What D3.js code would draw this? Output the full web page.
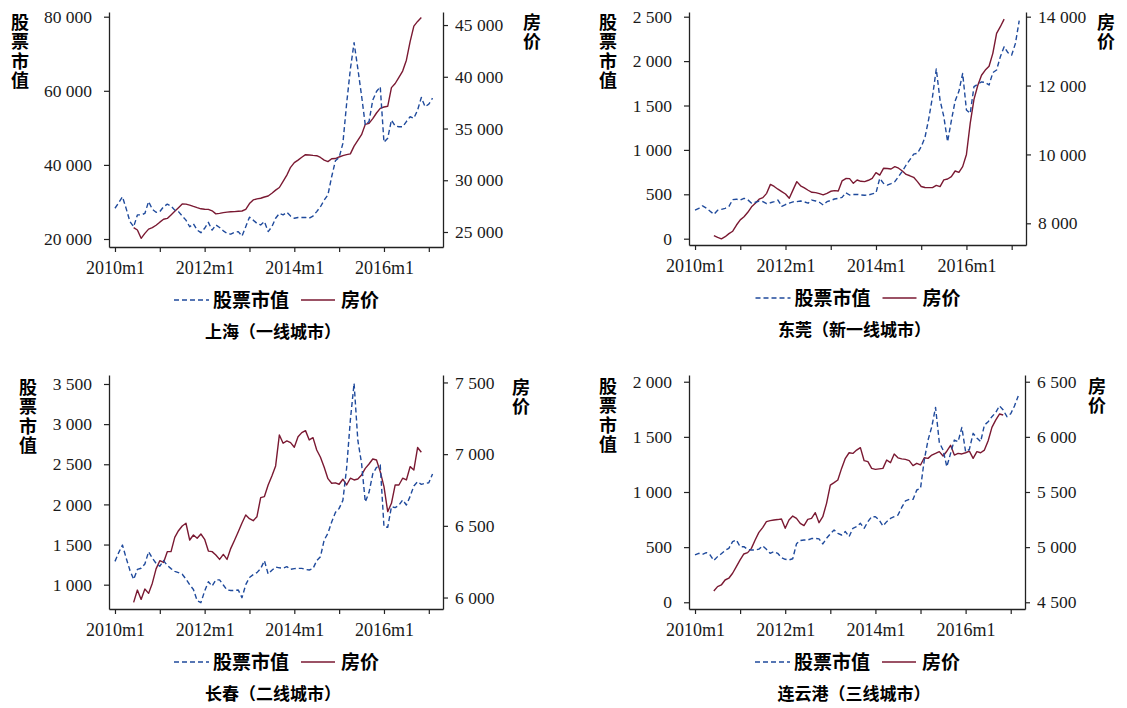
<!DOCTYPE html>
<html>
<head>
<meta charset="utf-8">
<script src="https://cdn.jsdelivr.net/npm/d3@7"></script>
<style>
  body { margin: 0; background: #fff; }
  svg { display: block; }
  .num { font-family: "Liberation Serif", "Times New Roman", serif; fill: #1a1a1a; }
  .cjk { font-family: "Noto Sans CJK SC", "Noto Sans", sans-serif; font-weight: 700; fill: #000; }
  .vert { writing-mode: vertical-rl; text-orientation: upright; }
</style>
</head>
<body>
<svg id="chart" width="1127" height="708"></svg>
<script>
// ---- Monthly series, 2010m1 onward (stock market value) and 2010m6 onward (house price) ----
const firstYear = 2010;
const priceStartMonth = "2010m6";
const xTickMonths = ["2010m1", "2011m1", "2012m1", "2013m1", "2014m1", "2015m1", "2016m1", "2017m1"];
const xTickLabels = ["2010m1", "2012m1", "2014m1", "2016m1"];

const cityTitles = ["上海（一线城市）", "东莞（新一线城市）", "长春（二线城市）", "连云港（三线城市）"];
const seriesNames = ["股票市值", "房价"];

// 上海
const stockShanghai = [
  28300, 29800, 31400, 28200, 24700, 23300, 26500, 26500, 26900, 30100, 28000, 27200,
  27400, 28700, 29400, 28900, 27800, 27400, 26200, 25100, 23300, 24100, 22400, 21700,
  22900, 24500, 22400, 23800, 23100, 22200, 21500, 21300, 21800, 22000, 20800, 23300,
  25900, 25100, 24200, 23800, 24700, 22000, 23300, 25600, 26900, 26500, 27200, 26200,
  25600, 25800, 25800, 25800, 25600, 26200, 27400, 28700, 30500, 31900, 36800, 41100,
  42000, 45800, 56500, 65800, 73000, 66000, 58700, 50800, 51700, 57500, 59800, 61100,
  46100, 47200, 52100, 50500, 50300, 50300, 51700, 53000, 52600, 54800, 58200, 55700,
  56400, 58000
];
const priceShanghai = [
  25420, 25190, 24390, 24870, 25280, 25420, 25650,
  25950, 26230, 26310, 26650, 27000, 27350, 27710, 27690, 27600, 27470, 27350, 27240,
  27200, 27190, 27050, 26750, 26800, 26870, 26920, 26950, 26970, 27000, 27030, 27190,
  27750, 28100, 28200, 28260, 28380, 28480, 28750, 29050, 29300, 29900, 30500, 31250,
  31700, 31950, 32220, 32470, 32440, 32400, 32370, 32200, 31950, 31800, 32080, 32100,
  32250, 32380, 32480, 32550, 33300, 33850, 34400, 35400, 35500, 35950, 36500, 36950,
  37080, 37150, 38950, 39350, 39950, 40550, 41600, 43400, 44900, 45350, 45730
];
const stockTicksShanghai = [20000, 40000, 60000, 80000];
const priceTicksShanghai = [25000, 30000, 35000, 40000, 45000];

// 东莞
const stockDongguan = [
  323, 342, 370, 345, 310, 275, 320, 330, 342, 365, 440, 445,
  435, 455, 438, 400, 410, 424, 417, 395, 405, 417, 435, 365,
  385, 400, 415, 418, 424, 415, 400, 435, 425, 410, 380, 417,
  430, 447, 455, 465, 518, 492, 498, 499, 493, 490, 492, 505,
  515, 679, 623, 604, 620, 642, 700, 760, 830, 890, 953, 961,
  1036, 1140, 1350, 1600, 1911, 1560, 1374, 1092, 1330, 1550, 1660, 1862,
  1449, 1411, 1712, 1740, 1765, 1760, 1731, 1870, 1900, 2050, 2162, 2095,
  2068, 2200, 2455
];
const priceDongguan = [
  7640, 7590, 7550, 7610, 7700, 7770, 7950,
  8100, 8190, 8320, 8480, 8580, 8700, 8745, 8870, 9130, 9070, 8990, 8920,
  8850, 8730, 8970, 9210, 9090, 9030, 8960, 8900, 8890, 8860, 8825, 8870,
  8930, 8950, 8940, 9230, 9300, 9297, 9161, 9258, 9220, 9210, 9250, 9306,
  9471, 9400, 9597, 9590, 9577, 9645, 9600, 9520, 9420, 9380, 9335, 9210,
  9070, 9040, 9035, 9035, 9100, 9065, 9260, 9287, 9355, 9519, 9480, 9645,
  10000, 10900, 11600, 12000, 12300, 12450, 12560, 12935, 13516, 13709, 13930
];
const stockTicksDongguan = [0, 500, 1000, 1500, 2000, 2500];
const priceTicksDongguan = [8000, 10000, 12000, 14000];

// 长春
const stockChangchun = [
  1290, 1400, 1494, 1330, 1180, 1066, 1190, 1205, 1257, 1411, 1330, 1266,
  1230, 1300, 1240, 1200, 1165, 1150, 1130, 1070, 1000, 940, 800, 776,
  920, 1037, 983, 1060, 1060, 996, 934, 928, 928, 934, 838, 1000,
  1090, 1125, 1150, 1200, 1299, 1133, 1180, 1220, 1210, 1205, 1224, 1191,
  1200, 1203, 1203, 1190, 1183, 1200, 1300, 1349, 1557, 1640, 1780, 1900,
  1950, 2050, 2450, 3050, 3508, 2800, 2512, 2030, 2150, 2380, 2460, 2491,
  1723, 1714, 1972, 1960, 1990, 2055, 1993, 2100, 2230, 2283, 2250, 2262,
  2270, 2379
];
const priceChangchun = [
  5966, 6052, 5987, 6059, 6029, 6100, 6200,
  6257, 6245, 6320, 6320, 6420, 6466, 6499, 6518, 6401, 6436, 6413, 6443,
  6406, 6324, 6320, 6297, 6266, 6301, 6266, 6343, 6400, 6459, 6520, 6576,
  6550, 6536, 6564, 6697, 6704, 6785, 6848, 6918, 7134, 7076, 7092, 7080,
  7048, 7122, 7150, 7164, 7099, 7115, 7029, 6978, 6908, 6829, 6797, 6800,
  6790, 6825, 6785, 6832, 6820, 6827, 6855, 6901, 6931, 6966, 6959, 6878,
  6773, 6599, 6657, 6785, 6785, 6832, 6820, 6913, 6890, 7046, 7013
];
const stockTicksChangchun = [1000, 1500, 2000, 2500, 3000, 3500];
const priceTicksChangchun = [6000, 6500, 7000, 7500];

// 连云港
const stockLianyungang = [
  429, 444, 435, 450, 430, 378, 414, 440, 470, 489, 550, 565,
  504, 504, 480, 474, 474, 482, 511, 480, 444, 459, 444, 405,
  390, 384, 395, 530, 560, 565, 565, 578, 580, 575, 529, 580,
  620, 656, 625, 610, 641, 595, 671, 686, 716, 671, 731, 776,
  776, 746, 692, 731, 760, 776, 791, 860, 920, 933, 933, 1018,
  1033, 1290, 1471, 1592, 1767, 1450, 1381, 1230, 1350, 1471, 1456, 1586,
  1365, 1387, 1532, 1490, 1456, 1607, 1637, 1683, 1720, 1782, 1743, 1683,
  1710, 1780, 1870
];
const priceLianyungang = [
  4603, 4642, 4657, 4702, 4718, 4763, 4823,
  4884, 4938, 4950, 4989, 5065, 5134, 5177, 5231, 5240, 5246, 5250, 5255,
  5171, 5246, 5282, 5261, 5216, 5195, 5252, 5261, 5313, 5222, 5276, 5397,
  5563, 5585, 5609, 5714, 5805, 5856, 5850, 5880, 5902, 5784, 5775, 5714,
  5705, 5710, 5714, 5790, 5766, 5844, 5810, 5800, 5796, 5784, 5739, 5760,
  5745, 5811, 5805, 5835, 5850, 5866, 5826, 5870, 5923, 5835, 5850, 5845,
  5856, 5870, 5805, 5866, 5856, 5880, 5965, 6086, 6152, 6207, 6198
];
const stockTicksLianyungang = [0, 500, 1000, 1500, 2000];
const priceTicksLianyungang = [4500, 5000, 5500, 6000, 6500];

// ---- Layout ----
const STOCK_COLOR = "#1f4a9c";
const PRICE_COLOR = "#7a1932";
const AXIS_COLOR = "#222";

const monthIndex = label => {
  const [y, m] = label.split("m").map(Number);
  return (y - firstYear) * 12 + (m - 1);
};
const priceOffset = monthIndex(priceStartMonth);

const panels = [
  { title: cityTitles[0], stock: stockShanghai, price: priceShanghai,
    stockTicks: stockTicksShanghai, priceTicks: priceTicksShanghai,
    left: 109, right: 443, top: 12, bottom: 247,
    stockDomain: [17840, 81270], priceDomain: [23550, 46260],
    leftTitleX: 20, rightTitleX: 532, titleY: 13 },
  { title: cityTitles[1], stock: stockDongguan, price: priceDongguan,
    stockTicks: stockTicksDongguan, priceTicks: priceTicksDongguan,
    left: 689, right: 1026, top: 12, bottom: 245,
    stockDomain: [-71, 2553], priceDomain: [7370, 14136],
    leftTitleX: 608, rightTitleX: 1106, titleY: 13 },
  { title: cityTitles[2], stock: stockChangchun, price: priceChangchun,
    stockTicks: stockTicksChangchun, priceTicks: priceTicksChangchun,
    left: 109, right: 443, top: 375, bottom: 609,
    stockDomain: [697, 3612], priceDomain: [5920, 7552],
    leftTitleX: 28, rightTitleX: 521, titleY: 378 },
  { title: cityTitles[3], stock: stockLianyungang, price: priceLianyungang,
    stockTicks: stockTicksLianyungang, priceTicks: priceTicksLianyungang,
    left: 689, right: 1025, top: 375, bottom: 609,
    stockDomain: [-61, 2061], priceDomain: [4439, 6561],
    leftTitleX: 608, rightTitleX: 1097, titleY: 377 }
];

const svg = d3.select("#chart");
const fmt = v => d3.format(",")(v).replace(/,/g, " ");

// stacked (top-to-bottom) axis title as a single vertical text run
function verticalTitle(g, text, x, yTop) {
  g.append("text").attr("class", "cjk vert").attr("font-size", 18)
    .attr("letter-spacing", 1.4)
    .attr("x", x).attr("y", yTop).text(text);
}

function styleAxis(sel) {
  sel.selectAll(".domain").attr("stroke", AXIS_COLOR).attr("stroke-width", 1.3);
  sel.selectAll(".tick line").attr("stroke", AXIS_COLOR).attr("stroke-width", 1.2);
  sel.selectAll(".tick text").attr("class", "num").attr("font-family", null).attr("fill", null);
}

panels.forEach(p => {
  const g = svg.append("g");
  const x = d3.scaleLinear().domain([-1.6, 87.8]).range([p.left, p.right]);
  const yS = d3.scaleLinear().domain(p.stockDomain).range([p.bottom, p.top]);
  const yP = d3.scaleLinear().domain(p.priceDomain).range([p.bottom, p.top]);

  // axes
  const xTickIdx = xTickMonths.map(monthIndex);
  const xa = g.append("g").attr("transform", `translate(0,${p.bottom})`)
    .call(d3.axisBottom(x).tickValues(xTickIdx).tickSize(5).tickSizeOuter(0).tickPadding(9)
      .tickFormat(i => {
        const lab = xTickMonths[xTickIdx.indexOf(i)];
        return xTickLabels.includes(lab) ? lab : "";
      }));
  xa.selectAll(".tick text").attr("font-size", 18);
  styleAxis(xa);

  const la = g.append("g").attr("transform", `translate(${p.left},0)`)
    .call(d3.axisLeft(yS).tickValues(p.stockTicks).tickSize(5).tickSizeOuter(0).tickPadding(12).tickFormat(fmt));
  la.selectAll(".tick text").attr("font-size", 17.5);
  styleAxis(la);

  const ra = g.append("g").attr("transform", `translate(${p.right},0)`)
    .call(d3.axisRight(yP).tickValues(p.priceTicks).tickSize(5).tickSizeOuter(0).tickPadding(7).tickFormat(fmt));
  ra.selectAll(".tick text").attr("font-size", 17.5);
  styleAxis(ra);

  // series
  const stockLine = d3.line().x((d, i) => x(i)).y(d => yS(d));
  const priceLine = d3.line().x((d, i) => x(i + priceOffset)).y(d => yP(d));

  g.append("path").datum(p.price).attr("d", priceLine)
    .attr("fill", "none").attr("stroke", PRICE_COLOR).attr("stroke-width", 1.4)
    .attr("stroke-linejoin", "round");
  g.append("path").datum(p.stock).attr("d", stockLine)
    .attr("fill", "none").attr("stroke", STOCK_COLOR).attr("stroke-width", 1.4)
    .attr("stroke-dasharray", "5,3").attr("stroke-linejoin", "round");

  // axis titles
  verticalTitle(g, seriesNames[0], p.leftTitleX, p.titleY);
  verticalTitle(g, seriesNames[1], p.rightTitleX, p.titleY);

  // legend
  const cx = (p.left + p.right) / 2;
  const ly = p.bottom + 53;
  g.append("line").attr("x1", cx - 102).attr("x2", cx - 67).attr("y1", ly).attr("y2", ly)
    .attr("stroke", STOCK_COLOR).attr("stroke-width", 1.4).attr("stroke-dasharray", "5,3");
  g.append("text").attr("class", "cjk").attr("font-size", 19).attr("x", cx - 63).attr("y", ly)
    .attr("dy", "0.36em").text(seriesNames[0]);
  g.append("line").attr("x1", cx + 25).attr("x2", cx + 59).attr("y1", ly).attr("y2", ly)
    .attr("stroke", PRICE_COLOR).attr("stroke-width", 1.4);
  g.append("text").attr("class", "cjk").attr("font-size", 19).attr("x", cx + 65).attr("y", ly)
    .attr("dy", "0.36em").text(seriesNames[1]);

  // panel caption
  g.append("text").attr("class", "cjk").attr("font-size", 17).attr("text-anchor", "middle")
    .attr("x", cx - 3).attr("y", p.bottom + 85).attr("dy", "0.36em").text(p.title);
});
</script>
</body>
</html>
